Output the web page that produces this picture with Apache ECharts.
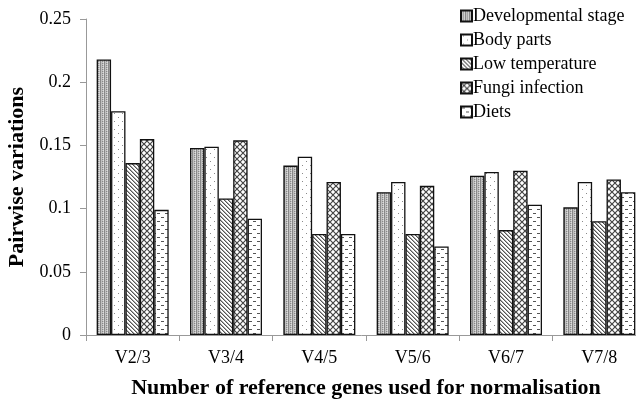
<!DOCTYPE html>
<html><head><meta charset="utf-8">
<script src="https://cdn.jsdelivr.net/npm/echarts@6/dist/echarts.min.js"></script>
<style>html,body{margin:0;padding:0;background:#fff}#c{width:636px;height:402px}</style>
</head><body><div id="c"></div>
<script>
const categories = ['V2/3','V3/4','V4/5','V5/6','V6/7','V7/8'];
const seriesNames = ['Developmental stage','Body parts','Low temperature','Fungi infection','Diets'];
const devStage = [0.218,0.148,0.134,0.113,0.126,0.101];
const bodyParts = [0.177,0.149,0.141,0.121,0.129,0.121];
const lowTemp = [0.136,0.108,0.080,0.080,0.083,0.090];
const fungi = [0.155,0.154,0.121,0.118,0.130,0.123];
const diets = [0.099,0.092,0.080,0.070,0.103,0.113];
const yTicks = [0,0.05,0.1,0.15,0.2,0.25];

function tile(w,h,draw){const c=document.createElement('canvas');c.width=w;c.height=h;const g=c.getContext('2d');g.fillStyle='#fff';g.fillRect(0,0,w,h);draw(g,w,h);return c;}
const pDev = tile(4,4,(g)=>{g.fillStyle='#c0c0c0';g.fillRect(0,0,4,4);g.fillStyle='#888';g.fillRect(0,0,1,4);g.fillRect(2,1,1,1);g.fillRect(2,3,1,1);g.fillStyle='#dedede';g.fillRect(3,0,1,1);g.fillRect(3,2,1,1);});
const pBody = tile(8,8,(g)=>{g.fillStyle='#8a8a8a';g.fillRect(2,1,1,1);g.fillRect(6,5,1,1);});
const pLow = tile(4,4,(g)=>{g.fillStyle='#555';for(let i=0;i<4;i++){g.fillRect(i,i,1,1);}g.fillStyle='#aaa';for(let i=0;i<4;i++){g.fillRect((i+1)%4,i,1,1);}});
const pFungi = tile(6,6,(g)=>{g.strokeStyle='#444';g.lineWidth=1.2;g.beginPath();g.moveTo(-1,-1);g.lineTo(7,7);g.moveTo(7,-1);g.lineTo(-1,7);g.stroke();});
const pDiets = tile(8,8,(g)=>{g.fillStyle='#555';g.fillRect(1,1,3,1);g.fillRect(5,5,3,1);});
const pats = [pDev,pBody,pLow,pFungi,pDiets];
const data = [devStage,bodyParts,lowTemp,fungi,diets];

const serif = '"Liberation Serif","DejaVu Serif",serif';
const chart = echarts.init(document.getElementById('c'));
chart.setOption({
  animation:false,
  legend:{orient:'vertical',left:455,top:2,itemWidth:11,itemHeight:11,itemGap:6,icon:'rect',
    textStyle:{fontFamily:serif,fontSize:18,lineHeight:18,color:'#000',padding:[0,0,0,-4]},data:seriesNames},
  grid:{left:86,top:19,right:-10,bottom:67,containLabel:false,outerBoundsMode:'none'},
  xAxis:{type:'category',data:categories,
    name:'Number of reference genes used for normalisation',nameLocation:'middle',nameGap:42,
    nameTextStyle:{fontFamily:serif,fontWeight:'bold',fontSize:22,color:'#000'},
    axisLine:{lineStyle:{color:'#999',width:1}},
    axisTick:{show:true,length:6,lineStyle:{color:'#999'}},
    axisLabel:{fontFamily:serif,fontSize:18,color:'#000',margin:14}},
  yAxis:{type:'value',min:0,max:0.25,interval:0.05,
    name:'Pairwise variations',nameLocation:'middle',nameGap:55,
    nameTextStyle:{fontFamily:serif,fontWeight:'bold',fontSize:22,color:'#000'},
    axisLine:{show:true,lineStyle:{color:'#999'}},
    axisTick:{show:true,length:6,lineStyle:{color:'#999'}},
    splitLine:{show:false},
    axisLabel:{fontFamily:serif,fontSize:18,color:'#000',margin:15,
      formatter:(v)=>{const t=yTicks.find(x=>Math.abs(x-v)<1e-9);return t===undefined?'':String(t);}}},
  series: seriesNames.map((n,i)=>({name:n,type:'bar',data:data[i],barWidth:14.4,barGap:'0%',
    itemStyle:{color:{image:pats[i],repeat:'repeat'},borderColor:'#111',borderWidth:1.3}}))
});
</script></body></html>
